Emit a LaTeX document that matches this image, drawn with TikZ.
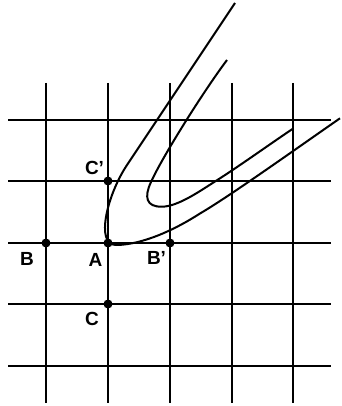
\documentclass[tikz,border=0pt]{standalone}
\usepackage{fontspec}
\setmainfont{Liberation Sans}
\begin{document}
\begin{tikzpicture}[x=1pt,y=-1pt,
  gridline/.style={line width=2pt,line cap=butt},
  curveline/.style={line width=2pt,line join=round},
  dotmark/.style={circle,fill=black,inner sep=0pt,minimum size=9pt},
  lbl/.style={inner sep=0pt,font=\bfseries\fontsize{19}{20}\selectfont}]
\useasboundingbox (0,0) rectangle (341,406);
% grid
\foreach \x in {46,108,170,232,293} \draw[gridline] (\x,83) -- (\x,403);
\foreach \y in {120,181,243,304,366} \draw[gridline] (8,\y) -- (331,\y);
% outer curve
\draw[curveline] (235,3) -- (127,165)
  .. controls (107,195) and (95,245) .. (116,245)
  .. controls (135,245) and (165,236) .. (200,213.5)
  .. controls (230,196) and (300,146) .. (340,118.3);
% inner curve
\draw[curveline] (227,60)
  .. controls (203,92) and (162.3,157) .. (151,182)
  .. controls (144,197) and (146,207) .. (162,206.7)
  .. controls (178,206.5) and (200,191) .. (215,181.5)
  .. controls (240,165.7) and (270,144) .. (293.5,128.3);
% points
\node[dotmark] (A) at (108,243) {};
\node[dotmark] (B) at (46,243) {};
\node[dotmark] (Bp) at (170,243) {};
\node[dotmark] (C) at (108,304) {};
\node[dotmark] (Cp) at (108,181) {};
% labels
\node[lbl] (lB) at (27,259) {B};
\node[lbl] (lA) at (95.5,260) {A};
\node[lbl] (lBp) at (156.5,258) {B'};
\node[lbl] (lCp) at (94.5,168) {C'};
\node[lbl] (lC) at (92,319) {C};
\end{tikzpicture}
\end{document}
